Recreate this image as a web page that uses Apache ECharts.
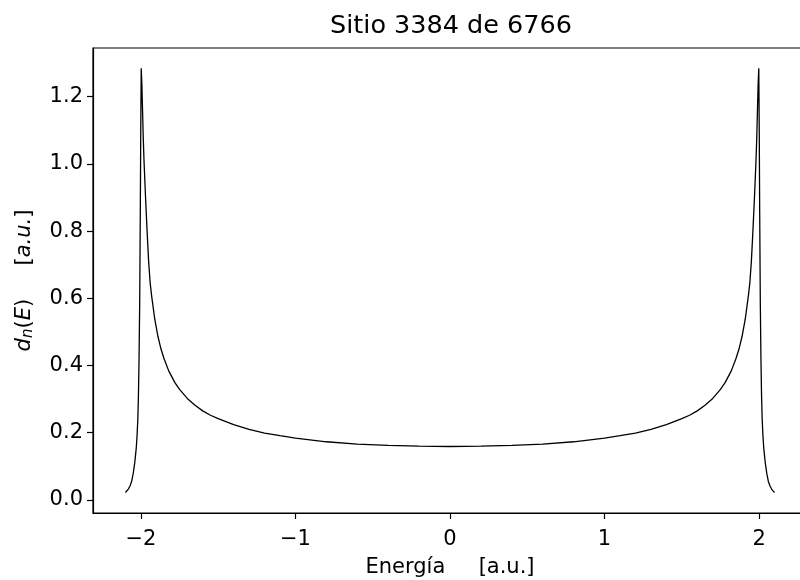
<!DOCTYPE html>
<html lang="es">
<head>
    <meta charset="UTF-8">
    <title>Sitio 3384 de 6766</title>
    <script src="https://cdn.jsdelivr.net/npm/echarts@6/dist/echarts.min.js"></script>
    <style>
        body { margin: 0; background: #fff; }
        #chart { width: 800px; height: 580px; }
    </style>
</head>
<body>
<div id="chart"></div>
<script>
// energy samples
const energy = [
    -2.10, -2.09, -2.08, -2.07, -2.06, -2.05, -2.04, -2.03, -2.025, -2.02,
    -2.016, -2.012, -2.008, -2.004, -2.001, -1.998, -1.994, -1.99, -1.985, -1.98,
    -1.97, -1.96, -1.95, -1.94, -1.93, -1.91, -1.89, -1.87, -1.85, -1.82,
    -1.78, -1.75, -1.70, -1.65, -1.60, -1.55, -1.50, -1.40, -1.30, -1.20,
    -1.10, -1.00, -0.80, -0.60, -0.40, -0.20, 0.00, 0.20, 0.40, 0.60,
    0.80, 1.00, 1.10, 1.20, 1.30, 1.40, 1.50, 1.55, 1.60, 1.65,
    1.70, 1.75, 1.78, 1.82, 1.85, 1.87, 1.89, 1.91, 1.93, 1.94,
    1.95, 1.96, 1.97, 1.98, 1.985, 1.99, 1.994, 1.998, 2.001, 2.004,
    2.008, 2.012, 2.016, 2.02, 2.025, 2.03, 2.04, 2.05, 2.06, 2.07,
    2.08, 2.09, 2.10
];
const dos = [
    0.022, 0.027, 0.033, 0.042, 0.055, 0.078, 0.11, 0.155, 0.19, 0.24,
    0.31, 0.42, 0.58, 0.85, 1.10, 1.285, 1.24, 1.17, 1.08, 1.01,
    0.90, 0.80, 0.71, 0.645, 0.605, 0.537, 0.487, 0.449, 0.42, 0.384,
    0.349, 0.329, 0.302, 0.282, 0.265, 0.252, 0.242, 0.224, 0.21, 0.199,
    0.191, 0.184, 0.173, 0.166, 0.162, 0.160, 0.159, 0.160, 0.162, 0.166,
    0.173, 0.184, 0.191, 0.199, 0.21, 0.224, 0.242, 0.252, 0.265, 0.282,
    0.302, 0.329, 0.349, 0.384, 0.42, 0.449, 0.487, 0.537, 0.605, 0.645,
    0.71, 0.80, 0.90, 1.01, 1.08, 1.17, 1.24, 1.285, 1.10, 0.85,
    0.58, 0.42, 0.31, 0.24, 0.19, 0.155, 0.11, 0.078, 0.055, 0.042,
    0.033, 0.027, 0.022
];
const xTicks = [-2, -1, 0, 1, 2];
const yTicks = [0, 0.2, 0.4, 0.6, 0.8, 1.0, 1.2];

const font = 'DejaVu Sans';
const chart = echarts.init(document.getElementById('chart'));

function minus(v) {
    return v < 0 ? '\u2212' + Math.abs(v) : String(v);
}

chart.setOption({
    animation: false,
    backgroundColor: '#fff',
    textStyle: { fontFamily: font, color: '#000' },
    title: {
        text: 'Sitio 3384 de 6766',
        left: 446,
        textAlign: 'center',
        top: 8,
        textStyle: { fontFamily: font, fontSize: 25.5, fontWeight: 'normal', color: '#000' }
    },
    grid: {
        left: 93, right: -7, top: 48, bottom: 67,
        show: true, borderColor: '#000', borderWidth: 1.2,
        outerBoundsMode: 'none'
    },
    xAxis: {
        type: 'value',
        min: -2.31, max: 2.31,
        name: 'Energía     [a.u.]',
        nameLocation: 'middle',
        nameGap: 44,
        nameTextStyle: { fontFamily: font, fontSize: 21, color: '#000' },
        axisLine: { onZero: false, lineStyle: { color: '#000', width: 1.2 } },
        axisTick: { show: true, length: 6, customValues: xTicks, lineStyle: { color: '#000', width: 1.2 } },
        axisLabel: { customValues: xTicks, formatter: minus, fontFamily: font, fontSize: 21, color: '#000', margin: 16 },
        splitLine: { show: false }
    },
    yAxis: {
        type: 'value',
        min: -0.039, max: 1.345,
        name: '{it|d}{sub|n}{n|(}{it|E}{n|)}     {n|[}{it|a.u.}{n|]}',
        nameLocation: 'middle',
        nameRotate: 90,
        nameGap: 57,
        nameTextStyle: {
            fontFamily: font, fontSize: 21, color: '#000',
            rich: {
                it: { fontFamily: font, fontStyle: 'italic', fontSize: 21, color: '#000' },
                n: { fontFamily: font, fontSize: 21, color: '#000' },
                sub: { fontFamily: font, fontStyle: 'italic', fontSize: 15, color: '#000', verticalAlign: 'bottom', padding: [7, 0, 0, 0] }
            }
        },
        axisLine: { show: true, onZero: false, lineStyle: { color: '#000', width: 1.2 } },
        axisTick: { show: true, length: 6, customValues: yTicks, lineStyle: { color: '#000', width: 1.2 } },
        axisLabel: { customValues: yTicks, formatter: v => v.toFixed(1), fontFamily: font, fontSize: 21, color: '#000', margin: 10 },
        splitLine: { show: false }
    },
    series: [{
        type: 'line',
        data: energy.map((e, i) => [e, dos[i]]),
        showSymbol: false,
        smooth: false,
        lineStyle: { color: '#000', width: 1.3 }
    }]
});
</script>
</body>
</html>
